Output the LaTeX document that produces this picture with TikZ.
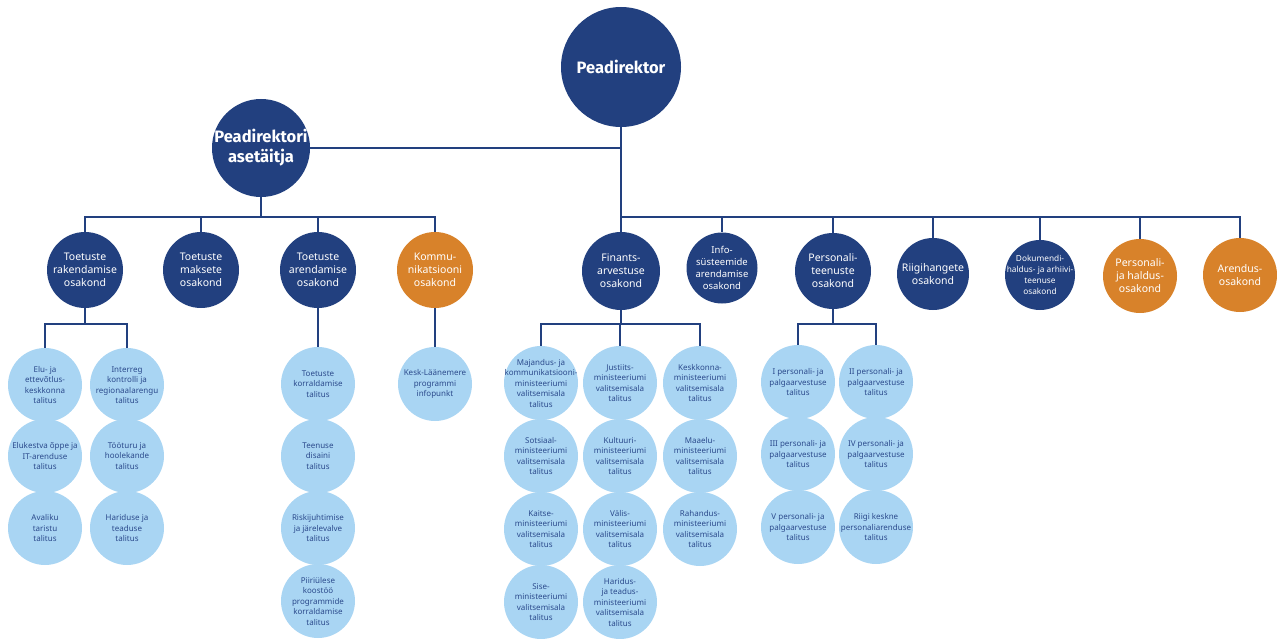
\documentclass[tikz,border=0pt]{standalone}
\usepackage{fontspec}
\setmainfont{Noto Sans}
\newfontfamily\boldfam{Fira Sans}
\usetikzlibrary{backgrounds}
\definecolor{dblue}{HTML}{22407F}
\definecolor{orng}{HTML}{D8822A}
\definecolor{lblue}{HTML}{A9D5F3}
\definecolor{ltext}{HTML}{2B4A8C}
\begin{document}
\begin{tikzpicture}[x=1pt,y=-1pt,
  conn/.style={draw=dblue,line width=2.8pt},
  top/.style={circle,fill=dblue,inner sep=-10pt,text=white,align=center,font=\boldfam\fontsize{16.5}{20}\selectfont\bfseries},
  dept/.style={circle,fill=dblue,inner sep=-8pt,minimum size=76pt,text=white,align=center,font=\fontsize{10.5}{13}\selectfont},
  odept/.style={dept,fill=orng},
  leaf/.style={circle,fill=lblue,inner sep=-8pt,minimum size=74pt,text=ltext,align=center,font=\fontsize{8}{10.5}\selectfont}]
\useasboundingbox (0,0) rectangle (1277,639);
% top
\node[top,minimum size=120pt] (pd) at (621,67) {Peadirektor};
\node[top,minimum size=98pt] (asst) at (261,148) {Peadirektori\\asetäitja};
% departments left
\node[dept] (t1) at (85,270) {Toetuste\\rakendamise\\osakond};
\node[dept] (t2) at (201,270) {Toetuste\\maksete\\osakond};
\node[dept] (t3) at (318,270) {Toetuste\\arendamise\\osakond};
\node[odept] (km) at (435,270) {Kommu-\\nikatsiooni\\osakond};
% departments right
\node[dept,minimum size=78pt] (fi) at (621,271) {Finants-\\arvestuse\\osakond};
\node[dept,minimum size=71pt,font=\fontsize{9.5}{12}\selectfont] (is) at (722,268) {Info-\\süsteemide\\arendamise\\osakond};
\node[dept] (pt) at (833,271) {Personali-\\teenuste\\osakond};
\node[dept,minimum size=72pt] (rh) at (933,274) {Riigihangete\\osakond};
\node[dept,minimum size=70pt,font=\fontsize{8.3}{11}\selectfont] (dk) at (1040,275) {Dokumendi-\\haldus- ja arhiivi-\\teenuse\\osakond};
\node[odept,minimum size=74pt] (ph) at (1140,276) {Personali-\\ja haldus-\\osakond};
\node[odept,minimum size=74pt] (ar) at (1240,275) {Arendus-\\osakond};
% leaves under t1
\node[leaf] (a1) at (45,385) {Elu- ja\\ettevõtlus-\\keskkonna\\talitus};
\node[leaf] (b1) at (127,385) {Interreg\\kontrolli ja\\regionaalarengu\\talitus};
\node[leaf] (a2) at (45,456) {Elukestva õppe ja\\IT-arenduse\\talitus};
\node[leaf] (b2) at (127,456) {Tööturu ja\\hoolekande\\talitus};
\node[leaf] (a3) at (45,528) {Avaliku\\taristu\\talitus};
\node[leaf] (b3) at (127,528) {Hariduse ja\\teaduse\\talitus};
% leaves under t3
\node[leaf] (c1) at (318,384) {Toetuste\\korraldamise\\talitus};
\node[leaf] (c2) at (318,456) {Teenuse\\disaini\\talitus};
\node[leaf] (c3) at (318,528) {Riskijuhtimise\\ja järelevalve\\talitus};
\node[leaf] (c4) at (318,601) {Piiriülese\\koostöö\\programmide\\korraldamise\\talitus};
% leaf under km
\node[leaf] (k1) at (435,384) {Kesk-Läänemere\\programmi\\infopunkt};
% leaves under fi
\node[leaf] (f11) at (541,383) {Majandus- ja\\kommunikatsiooni-\\ministeeriumi\\valitsemisala\\talitus};
\node[leaf] (f12) at (541,456) {Sotsiaal-\\ministeeriumi\\valitsemisala\\talitus};
\node[leaf] (f13) at (541,529) {Kaitse-\\ministeeriumi\\valitsemisala\\talitus};
\node[leaf] (f14) at (541,602) {Sise-\\ministeeriumi\\valitsemisala\\talitus};
\node[leaf] (f21) at (620,383) {Justiits-\\ministeeriumi\\valitsemisala\\talitus};
\node[leaf] (f22) at (620,456) {Kultuuri-\\ministeeriumi\\valitsemisala\\talitus};
\node[leaf] (f23) at (620,529) {Välis-\\ministeeriumi\\valitsemisala\\talitus};
\node[leaf] (f24) at (620,602) {Haridus-\\ja teadus-\\ministeeriumi\\valitsemisala\\talitus};
\node[leaf] (f31) at (700,383) {Keskkonna-\\ministeeriumi\\valitsemisala\\talitus};
\node[leaf] (f32) at (700,456) {Maaelu-\\ministeeriumi\\valitsemisala\\talitus};
\node[leaf] (f33) at (700,529) {Rahandus-\\ministeeriumi\\valitsemisala\\talitus};
% leaves under pt
\node[leaf] (p11) at (798,382) {I personali- ja\\palgaarvestuse\\talitus};
\node[leaf] (p12) at (798,454) {III personali- ja\\palgaarvestuse\\talitus};
\node[leaf] (p13) at (798,527) {V personali- ja\\palgaarvestuse\\talitus};
\node[leaf] (p21) at (876,382) {II personali- ja\\palgaarvestuse\\talitus};
\node[leaf] (p22) at (876,454) {IV personali- ja\\palgaarvestuse\\talitus};
\node[leaf] (p23) at (876,527) {Riigi keskne\\personaliarenduse\\talitus};
% bar coordinates
\coordinate (barA) at (261,217);
\coordinate (barB) at (621,217);
\coordinate (barC) at (85,324);
\coordinate (barD) at (621,324);
\coordinate (barE) at (833,324);
\begin{scope}[on background layer]
  \draw[conn] (pd) |- (asst);
  \foreach \c in {t1,t2,t3,km} \draw[conn] (asst) -- (barA) -| (\c);
  \foreach \c in {fi,is,pt,rh,dk,ph,ar} \draw[conn] (pd) -- (barB) -| (\c);
  \foreach \c in {a1,b1} \draw[conn] (t1) -- (barC) -| (\c);
  \draw[conn] (t3) -- (c1);
  \draw[conn] (km) -- (k1);
  \foreach \c in {f11,f21,f31} \draw[conn] (fi) -- (barD) -| (\c);
  \foreach \c in {p11,p21} \draw[conn] (pt) -- (barE) -| (\c);
\end{scope}
\end{tikzpicture}
\end{document}
